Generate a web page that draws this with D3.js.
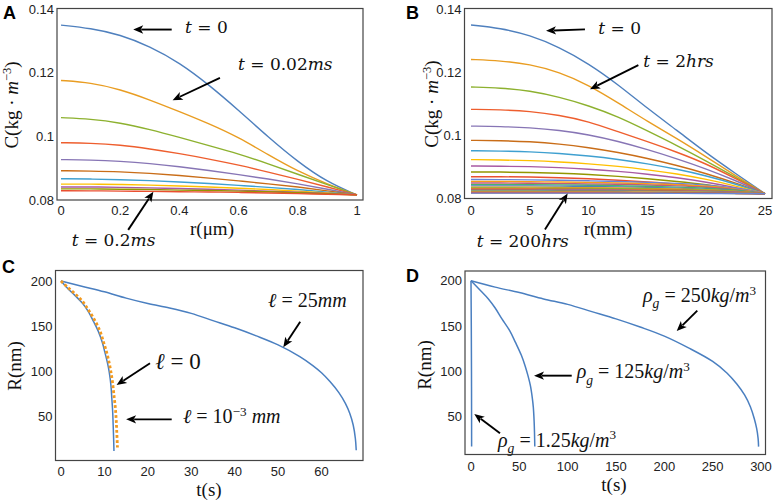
<!DOCTYPE html>
<html><head><meta charset="utf-8">
<script src="https://cdn.jsdelivr.net/npm/d3@7"></script>
<style>body{margin:0;background:#fff}svg{display:block}</style>
</head><body>
<svg id="chart" width="775" height="503"></svg>
<script>
// ---------------- DATA ----------------
const rA = [0,0.1,0.2,0.3,0.4,0.5,0.6,0.7,0.8,0.9,1];
const rB = [0,2.5,5,7.5,10,12.5,15,17.5,20,22.5,25];

// Panel A: C(r) for t = 0 ... 0.2 ms (step 0.02 ms)
const concA = [
  [.1350,.1340,.1320,.1283,.1232,.1162,.1082,.0998,.0920,.0856,.0816],
  [.1176,.1169,.1148,.1115,.1078,.1040,.0997,.0942,.0890,.0850,.0816],
  [.1059,.1055,.1043,.1022,.0997,.0971,.0945,.0914,.0881,.0848,.0816],
  [.0980,.0979,.0973,.0961,.0946,.0929,.0910,.0888,.0865,.0841,.0816],
  [.0927,.0926,.0922,.0915,.0905,.0893,.0880,.0866,.0851,.0834,.0816],
  [.0892,.0891,.0889,.0884,.0877,.0869,.0860,.0851,.0841,.0829,.0816],
  [.0867,.0866,.0864,.0861,.0857,.0852,.0846,.0840,.0833,.0825,.0816],
  [.0850,.0850,.0849,.0847,.0844,.0841,.0837,.0833,.0828,.0822,.0816],
  [.0841,.0841,.0840,.0838,.0836,.0834,.0831,.0828,.0825,.0821,.0816],
  [.0835,.0835,.0834,.0833,.0831,.0830,.0828,.0826,.0823,.0820,.0816],
  [.0829,.0829,.0828,.0827,.0826,.0825,.0824,.0822,.0820,.0818,.0816]
];

// Panel B: C(r) for t = 0 ... 200 hrs
const concB = [
  [.1350,.1340,.1318,.1280,.1228,.1162,.1086,.1017,.0945,.0880,.0816],
  [.1241,.1237,.1226,.1201,.1160,.1104,.1045,.0991,.0933,.0873,.0816],
  [.1154,.1151,.1142,.1122,.1095,.1060,.1015,.0969,.0920,.0868,.0816],
  [.1083,.1082,.1077,.1065,.1045,.1012,.0981,.0948,.0911,.0864,.0816],
  [.1030,.1029,.1025,.1017,.1003,.0982,.0956,.0927,.0895,.0858,.0816],
  [.0985,.0984,.0981,.0974,.0962,.0947,.0928,.0906,.0880,.0850,.0816],
  [.0952,.0951,.0949,.0944,.0936,.0925,.0911,.0894,.0873,.0847,.0816],
  [.0924,.0923,.0921,.0917,.0911,.0903,.0892,.0879,.0862,.0841,.0816],
  [.0904,.0903,.0902,.0899,.0894,.0887,.0878,.0867,.0853,.0836,.0816],
  [.0885,.0885,.0883,.0881,.0877,.0871,.0864,.0855,.0845,.0832,.0816],
  [.0870,.0870,.0869,.0867,.0864,.0859,.0853,.0847,.0838,.0828,.0816],
  [.0861,.0861,.0860,.0859,.0857,.0855,.0852,.0849,.0844,.0835,.0816],
  [.0855,.0855,.0854,.0853,.0852,.0850,.0848,.0845,.0840,.0832,.0816],
  [.0850,.0850,.0849,.0848,.0847,.0846,.0844,.0841,.0837,.0830,.0816],
  [.0845,.0845,.0845,.0844,.0843,.0841,.0840,.0837,.0834,.0828,.0816],
  [.0841,.0841,.0841,.0840,.0839,.0838,.0836,.0834,.0831,.0826,.0816],
  [.0837,.0837,.0837,.0836,.0835,.0834,.0833,.0831,.0829,.0825,.0816],
  [.0834,.0834,.0834,.0833,.0833,.0832,.0831,.0829,.0827,.0824,.0816],
  [.0831,.0831,.0831,.0830,.0830,.0829,.0828,.0827,.0825,.0822,.0816],
  [.0829,.0829,.0829,.0828,.0828,.0827,.0826,.0825,.0824,.0821,.0816],
  [.0827,.0827,.0827,.0826,.0826,.0825,.0825,.0824,.0822,.0820,.0816],
  [.0825,.0825,.0825,.0824,.0824,.0824,.0823,.0822,.0821,.0819,.0816],
  [.0823,.0823,.0823,.0823,.0822,.0822,.0822,.0821,.0820,.0819,.0816],
  [.0821,.0821,.0821,.0821,.0821,.0821,.0820,.0820,.0819,.0818,.0816],
  [.0820,.0820,.0820,.0820,.0820,.0820,.0819,.0819,.0818,.0817,.0816],
  [.0819,.0819,.0819,.0819,.0819,.0819,.0818,.0818,.0818,.0817,.0816],
  [.0818,.0818,.0818,.0818,.0818,.0818,.0818,.0817,.0817,.0817,.0816]
];

const palette = ["#4F80BE","#E99D22","#8DB12F","#EE5E2E","#8775B5","#C96D18","#3FA0D0","#FFC000",
                 "#A85AA3","#939600","#EA4F30","#6685D9","#F89F13","#BC5B80","#47B66D"];

// Panel C: R(t) (t in s, R in nm)
const c_l25  = [[0,200],[5,194],[10,188],[15,181],[20,175],[25,170],[30,164],[35,156],[40,148],[45,139],
                [50,129],[55,116],[58,106],[60,98],[62,88],[64,76],[65.5,64],[66.5,53],[67.3,40],[67.8,25],[68,12]];
const c_l1e3 = [[0,200],[1.5,192],[3.2,184],[5,175],[6.3,166],[7.5,155],[8.6,144],[9.5,132],[10.1,121],
                [10.7,109],[11.1,99],[11.5,84],[11.7,70],[11.9,55],[12.0,42],[12.1,28],[12.2,11]];
const c_l0   = [[0,200],[1.5,193],[3.2,186],[5,177],[6.3,168],[7.7,157],[9.0,144],[9.8,132],[10.5,121],
                [11.1,109],[11.5,99],[11.9,86],[12.2,73],[12.5,60],[12.7,47],[12.85,32],[13.0,15]];

// Panel D: R(t) for rho_g = 250, 125, 1.25 kg/m^3
const d_250  = [[0,200],[25,193],[50,187],[75,180],[100,174],[125,166],[150,158],[175,149],[200,139],
                [225,126],[250,111],[265,98],[275,86],[283,74],[289,61],[293,48],[295.5,37],[297,26],[297.5,17]];
const d_125  = [[0,200],[10,189],[18,180],[25,170],[32,158],[40,145],[46,132],[52,118],[56,106],[59,95],
                [61.5,84],[63.5,70],[64.5,60],[65.3,45],[65.7,32],[66,17]];
const d_125s = [[0,200],[0.3,150],[0.5,100],[0.6,50],[0.65,17]];

const ticksAx = [0,0.2,0.4,0.6,0.8,1];
const ticksBx = [0,5,10,15,20,25];
const ticksABy = [0.08,0.1,0.12,0.14];
const ticksCx = [0,10,20,30,40,50,60];
const ticksDx = [0,50,100,150,200,250,300];
const ticksCDy = [50,100,150,200];

// ---------------- DRAW ----------------
const svg = d3.select("#chart");
const SANS = "'Liberation Sans', Arial, sans-serif";
const SERIF = "'Liberation Serif', 'Times New Roman', serif";
const MATH = "'DejaVu Serif', serif";

function richText(g, x, y, size, family, parts, anchor) {
  const t = g.append("text").attr("x", x).attr("y", y)
    .attr("font-family", family).attr("font-size", size).attr("fill", "#111")
    .attr("text-anchor", anchor || "start").style("white-space", "pre");
  let shift = 0;
  parts.forEach(p => {
    const s = t.append("tspan").text(p.t);
    if (p.i) s.attr("font-style", "italic");
    let target = 0, fs = size;
    if (p.sub) { target = size * 0.32; fs = size * 0.68; }
    if (p.sup) { target = -size * 0.36; fs = size * 0.66; }
    s.attr("font-size", fs);
    if (target !== shift) { s.attr("dy", target - shift); shift = target; }
  });
  return t;
}

function arrow(g, x1, y1, x2, y2) {
  const ang = Math.atan2(y2 - y1, x2 - x1);
  const L = 10, W = 4.2;
  const bx = x2 - L * Math.cos(ang), by = y2 - L * Math.sin(ang);
  g.append("line").attr("x1", x1).attr("y1", y1).attr("x2", bx + 2*Math.cos(ang)).attr("y2", by + 2*Math.sin(ang))
    .attr("stroke", "#000").attr("stroke-width", 1.9);
  const px = -Math.sin(ang) * W, py = Math.cos(ang) * W;
  g.append("path").attr("d", `M${x2},${y2}L${bx+px},${by+py}L${bx+2.5*Math.cos(ang)},${by+2.5*Math.sin(ang)}L${bx-px},${by-py}Z`)
    .attr("fill", "#000");
}

function panel(cfg) {
  const g = svg.append("g");
  const x = d3.scaleLinear().domain(cfg.xd).range(cfg.xr);
  const y = d3.scaleLinear().domain(cfg.yd).range(cfg.yr);
  g.append("rect").attr("x", cfg.fx[0]).attr("y", cfg.fy[0])
    .attr("width", cfg.fx[1] - cfg.fx[0]).attr("height", cfg.fy[1] - cfg.fy[0])
    .attr("fill", "none").attr("stroke", "#444").attr("stroke-width", 1.2);
  g.selectAll(null).data(cfg.xt).join("text")
    .attr("x", d => x(d)).attr("y", cfg.xly).attr("text-anchor", "middle")
    .attr("font-family", SANS).attr("font-size", 13).attr("fill", "#222")
    .text(d => cfg.xfmt ? cfg.xfmt(d) : d);
  g.selectAll(null).data(cfg.yt).join("text")
    .attr("x", cfg.fx[0] - 3).attr("y", d => y(d) + 4.6).attr("text-anchor", "end")
    .attr("font-family", SANS).attr("font-size", 13).attr("fill", "#222")
    .text(d => cfg.yfmt ? cfg.yfmt(d) : d);
  g.append("text").attr("x", cfg.letter[1]).attr("y", cfg.letter[2])
    .attr("font-family", SANS).attr("font-weight", "bold").attr("font-size", 18).attr("fill", "#000")
    .text(cfg.letter[0]);
  return {g, x, y};
}

const smooth = (x, y) => d3.line().x(d => x(d[0])).y(d => y(d[1])).curve(d3.curveBasis);
const line = (x, y) => d3.line().x(d => x(d[0])).y(d => y(d[1])).curve(d3.curveCatmullRom.alpha(0.5));

// ---------- Panel A ----------
{
  const {g, x, y} = panel({xd:[0,1], xr:[61,357], yd:[0.08,0.14], yr:[200,9.2],
    fx:[57,363], fy:[8.5,200], xt:ticksAx, yt:ticksABy, xly:215, letter:["A",3,19],
    xfmt: d3.format("~g"), yfmt: d3.format("~g")});
  const cg = g.append("g");
  concA.forEach((vals, i) => {
    cg.append("path").datum(vals.map((v, j) => [rA[j], v]))
      .attr("d", smooth(x, y)).attr("fill", "none")
      .attr("stroke", palette[i % palette.length]).attr("stroke-width", 1.4);
  });
  richText(g, 18, 105, 19, SERIF, [{t:"C(kg · "},{t:"m",i:true},{t:"−3",sup:true},{t:")"}], "middle")
    .attr("transform", "rotate(-90,18,105)");
  richText(g, 212, 235, 19, SERIF, [{t:"r(μm)"}], "middle");
  richText(g, x(0.419), y(0.1324), 17, MATH, [{t:"t",i:true},{t:" = 0"}]);
  arrow(g, x(0.374), y(0.1336), x(0.244), y(0.1336));
  richText(g, x(0.598), y(0.1208), 17, MATH, [{t:"t",i:true},{t:" = 0.02"},{t:"ms",i:true}]);
  arrow(g, x(0.537), y(0.1184), x(0.377), y(0.1114));
  richText(g, x(0.036), y(0.0655), 17, MATH, [{t:"t",i:true},{t:" = 0.2"},{t:"ms",i:true}]);
  arrow(g, x(0.227), y(0.0706), x(0.312), y(0.0826));
}

// ---------- Panel B ----------
{
  const {g, x, y} = panel({xd:[0,25], xr:[471,765], yd:[0.08,0.14], yr:[198.8,9.2],
    fx:[464.5,772], fy:[8.5,198.5], xt:ticksBx, yt:ticksABy, xly:215, letter:["B",406,18.5],
    yfmt: d3.format("~g")});
  const cg = g.append("g");
  concB.forEach((vals, i) => {
    cg.append("path").datum(vals.map((v, j) => [rB[j], v]))
      .attr("d", smooth(x, y)).attr("fill", "none")
      .attr("stroke", palette[i % palette.length]).attr("stroke-width", 1.4);
  });
  richText(g, 438, 104, 19, SERIF, [{t:"C(kg · "},{t:"m",i:true},{t:"−3",sup:true},{t:")"}], "middle")
    .attr("transform", "rotate(-90,438,104)");
  richText(g, 608, 235, 19, SERIF, [{t:"r(mm)"}], "middle");
  richText(g, x(10.83), y(0.1321), 17, MATH, [{t:"t",i:true},{t:" = 0"}]);
  arrow(g, x(9.69), y(0.1336), x(6.38), y(0.1332));
  richText(g, x(14.65), y(0.1218), 17, MATH, [{t:"t",i:true},{t:" = 2"},{t:"hrs",i:true}]);
  arrow(g, x(14.23), y(0.1223), x(10.12), y(0.1147));
  richText(g, x(0.48), y(0.0648), 17, MATH, [{t:"t",i:true},{t:" = 200"},{t:"hrs",i:true}]);
  arrow(g, x(6.29), y(0.0703), x(8.22), y(0.0817));
}

// ---------- Panel C ----------
{
  const {g, x, y} = panel({xd:[0,60], xr:[61,321.5], yd:[0,200], yr:[461,281],
    fx:[55.5,363], fy:[270.5,460.5], xt:ticksCx, yt:ticksCDy, xly:476, letter:["C",2,273]});
  const cg = g.append("g");
  cg.append("path").datum(c_l25).attr("d", line(x, y)).attr("fill","none").attr("stroke","#4A7FC0").attr("stroke-width",1.5);
  cg.append("path").datum(c_l1e3).attr("d", line(x, y)).attr("fill","none").attr("stroke","#4A7FC0").attr("stroke-width",1.5);
  cg.append("path").datum(c_l0).attr("d", line(x, y)).attr("fill","none").attr("stroke","#F39A1E")
    .attr("stroke-width",2.8).attr("stroke-dasharray","2.8 2.2");
  richText(g, 21, 366, 19, SERIF, [{t:"R(nm)"}], "middle").attr("transform", "rotate(-90,21,366)");
  richText(g, 209, 496, 19, SERIF, [{t:"t(s)"}], "middle");
  richText(g, x(47.7), y(171.4), 20, SERIF, [{t:"ℓ",i:true},{t:" = 25"},{t:"mm",i:true}]);
  arrow(g, x(55.1), y(154.8), x(51.2), y(126.3));
  richText(g, x(21.7), y(101.9), 23, SERIF, [{t:"ℓ",i:true},{t:" = 0"}]);
  arrow(g, x(20.5), y(108.6), x(12.8), y(84.4));
  richText(g, x(28.1), y(41.9), 20, SERIF, [{t:"ℓ",i:true},{t:" = 10"},{t:"−3",sup:true},{t:" "},{t:"mm",i:true}]);
  arrow(g, x(25.5), y(46.3), x(15.0), y(46.3));
}

// ---------- Panel D ----------
{
  const {g, x, y} = panel({xd:[0,300], xr:[471,761], yd:[0,200], yr:[462,280.8],
    fx:[465,765.5], fy:[271,454.5], xt:ticksDx, yt:ticksCDy, xly:471, letter:["D",406,282]});
  const cg = g.append("g");
  [d_250, d_125, d_125s].forEach(dat => {
    cg.append("path").datum(dat).attr("d", line(x, y)).attr("fill","none").attr("stroke","#4A7FC0").attr("stroke-width",1.5);
  });
  richText(g, 431, 365, 19, SERIF, [{t:"R(nm)"}], "middle").attr("transform", "rotate(-90,431,365)");
  richText(g, 614, 491, 19, SERIF, [{t:"t(s)"}], "middle");
  const rho = v => [{t:"ρ",i:true},{t:"g",i:true,sub:true},{t:" = "+v},{t:"kg",i:true},{t:"/"},{t:"m",i:true},{t:"3",sup:true}];
  richText(g, x(177.9), y(176.9), 20, SERIF, rho("250"));
  arrow(g, x(234.1), y(167), x(212.8), y(144.6));
  richText(g, x(109.3), y(92.4), 20, SERIF, rho("125"));
  arrow(g, x(104.2), y(95.3), x(65.2), y(95.3));
  richText(g, x(27.9), y(16.9), 20, SERIF, rho("1.25"));
  arrow(g, x(30), y(31.7), x(3.4), y(53));
}
</script>
</body></html>
